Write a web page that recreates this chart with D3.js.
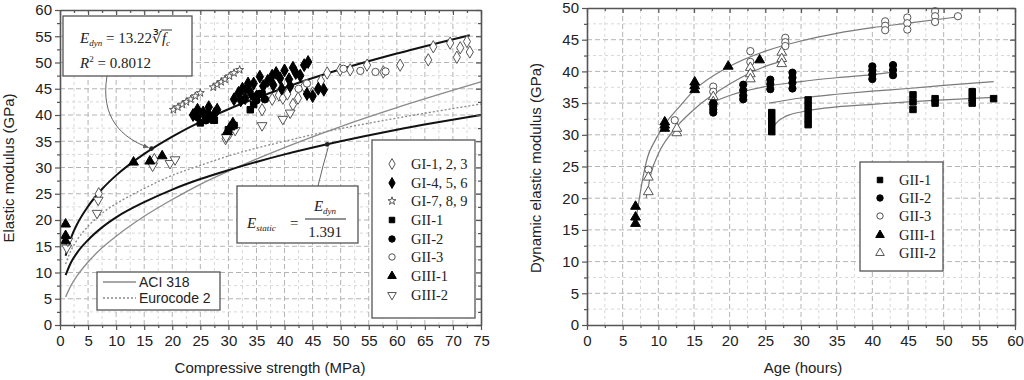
<!DOCTYPE html>
<html><head><meta charset="utf-8">
<script src="https://cdn.jsdelivr.net/npm/d3@7"></script>
<style>body{margin:0;background:#fff}svg{display:block}</style>
</head><body>
<svg id="c" width="1024" height="380"></svg>
<script>
// ---------- LEFT CHART DATA ----------
const leftXTicks = [0,5,10,15,20,25,30,35,40,45,50,55,60,65,70,75];
const leftYTicks = [0,5,10,15,20,25,30,35,40,45,50,55,60];
const leftLegend = ["GI-1, 2, 3","GI-4, 5, 6","GI-7, 8, 9","GII-1","GII-2","GII-3","GIII-1","GIII-2"];

const GI123 = [[1.2,16.3],[6.9,25],[16.8,31.5],[29.5,35.5],[30.2,36.5],[34.5,42.5],[36,41],[37.8,43],[39,43.8],[39.7,43.2],[40.5,44],[41.5,42],[42.4,43.2],[43.5,45.5],[45,44.2],[46.5,46.5],[47.6,48],[49.9,48.6],[51.7,48.6],[54.7,49.5],[57.6,48.2],[60.6,49.5],[65.6,50.5],[66.5,53],[69.5,53.7],[70.7,51],[71.3,52.8],[72.5,54],[73,52]];
const GI456 = [[23.7,40],[24.5,41],[25.5,40.5],[26.5,41.5],[27.5,40.2],[28,41],[26.8,39.6],[31,43],[31.8,44.2],[32.5,45],[33,43.2],[33.8,44.5],[34.5,46],[35,43.5],[35.6,47.3],[32.2,42.8],[33.5,46],[37,46.5],[37.8,47.5],[38.5,48],[39.2,47],[40,48.5],[40.8,46.8],[41.5,49],[42,48],[42.8,47.5],[43.5,49.5],[44.2,50.1],[36.2,45.5],[38,45.7],[39.5,45],[41,45.5],[44,44],[45,43.6],[46,45],[47,44.8]];
const GI789 = [[20.2,41],[21,41.5],[21.8,42],[22.5,42.5],[23.3,43],[24.1,43.6],[25,44.2],[27.3,45.3],[28,45.8],[28.7,46.3],[29.4,46.8],[30.2,47.4],[31,48],[32,48.6]];
const GII1L = [[33.9,41],[25,38.5],[27.5,39],[34.5,42],[31,38],[30,37.2],[36,44],[26,40.3]];
const GII2L = [[34.5,43.5],[35.5,44],[36.5,43],[24.5,39.6],[26,39],[33,45],[35,42.8]];
const GII3L = [[50.5,48.8],[53.5,48.4],[56.2,48.2],[58,48.3],[42.5,45],[44,46]];
const GIII1L = [[1,19.2],[1,17],[1,16],[13.1,31],[16,31.2],[18.2,32.2],[30.3,37.7],[30.8,38.5],[29.8,36.8]];
const GIII2L = [[1.2,14.7],[1.4,16],[6.8,23.8],[6.6,21.3],[16.5,30.3],[19.6,30.8],[20.5,31.5],[31.2,37.1],[29.6,35.8],[36,38],[39.7,39.2],[41,40.4]];

const fitFc   = [1,2,3,5,7.5,10,15,20,25,30,40,50,60,73];
const fitE    = [13.2,16.7,19.1,22.6,25.9,28.5,32.6,35.9,38.7,41.1,45.2,48.7,51.7,55.2];
const statFc  = [1,2,3,5,7.5,10,15,20,25,30,40,50,60,75];
const statE   = [9.5,12.0,13.7,16.2,18.6,20.5,23.4,25.8,27.8,29.5,32.5,35.0,37.2,40.0];
const aciFc   = [1,2,3,5,7.5,10,15,20,25,30,40,50,60,75];
const aciE    = [5.35,7.6,9.3,12,14.7,16.9,20.7,23.9,26.8,29.3,33.8,37.8,41.4,46.3];
const ecFc    = [1,2,3,5,7.5,10,15,20,25,30,40,50,60,75];
const ecE     = [11.6,14.3,16.1,18.8,21.3,23.1,26.0,28.5,30.4,32.2,35.0,37.4,39.4,42.1];
const calloutPts = [[16.3,33.6],[47.6,34.4]];

// ---------- RIGHT CHART DATA ----------
const rightXTicks = [0,5,10,15,20,25,30,35,40,45,50,55,60];
const rightYTicks = [0,5,10,15,20,25,30,35,40,45,50];
const rightLegend = ["GII-1","GII-2","GII-3","GIII-1","GIII-2"];

const GII1R = [[25.9,33.5],[25.9,32.5],[25.9,31.5],[25.9,30.5],[31,35.5],[31,34.5],[31,33.5],[31,32.5],[31,31.6],[45.7,36.3],[45.7,35.2],[45.7,34],[48.8,35.7],[48.8,35],[54,36.8],[54,35.8],[54,35],[57,35.7]];
const GII2R = [[17.7,35],[17.7,34.5],[17.7,34],[17.7,33.5],[21.9,37.9],[21.9,37],[21.9,36.2],[21.9,35.6],[25.7,38.7],[25.7,38],[25.7,37.2],[28.8,39.8],[28.8,39],[28.8,38.2],[28.8,37.3],[40,40.8],[40,40.2],[40,39.5],[40,38.8],[42.9,41],[42.9,40.2],[42.9,39.4]];
const GII3R = [[8.6,24.5],[12.3,32.3],[17.7,37.6],[17.7,36.8],[22.9,43.2],[22.9,41.5],[27.8,45.3],[27.8,44.6],[27.8,44],[41.8,47.9],[41.8,47.2],[41.8,46.5],[44.9,48.5],[44.9,47.6],[44.9,46.6],[48.8,49.5],[48.8,48.7],[48.8,47.8],[52,48.7]];
const GIII1R = [[6.8,18.7],[6.8,17],[6.8,16],[10.9,32],[10.9,31.5],[10.9,31],[15.1,38.3],[15.1,37.7],[15.1,37.1],[19.8,40.8],[24.2,41.8]];
const GIII2R = [[8.6,21],[8.6,23.3],[12.6,30.3],[12.6,31],[17.7,36],[17.7,35.2],[22.9,40.6],[22.9,39.6],[22.9,38.8],[27.3,43],[27.3,42],[27.3,41.2]];

const c1Age = [6.7,7.2,7.8,8.5,9.5,11,13,15,20,25,30,35,40,45,52];
const c1E   = [15.5,19,23,26.5,29,31.8,34.5,37,40.8,43.2,44.8,46,46.9,47.6,48.6];
const c2Age = [8.3,9,10,12,15,20,25,27.5];
const c2E   = [20,24,27,30.5,34,38,40.8,41.7];
const c3Age = [18,20,25,30,35,40,43];
const c3E   = [35.3,36.2,37.6,38.4,39,39.5,39.9];
const c4Age = [25.5,30,35,40,45,50,57];
const c4E   = [35,35.8,36.4,36.9,37.3,37.8,38.4];
const c5Age = [25.8,26.5,27.5,28.5,30,32,35,40,45,50,57];
const c5E   = [30.5,31.8,32.7,33.2,33.6,34,34.4,34.8,35.2,35.5,35.9];

// ---------- DRAWING ----------
const svg = d3.select("#c");
const SANS = "'Liberation Sans', Arial, sans-serif";
const SERIF = "'Liberation Serif', 'Times New Roman', serif";

svg.append("defs").append("marker").attr("id","arr").attr("viewBox","0 0 10 10")
  .attr("refX",9).attr("refY",5).attr("markerWidth",6).attr("markerHeight",6).attr("orient","auto")
  .append("path").attr("d","M0,1 L10,5 L0,9 z").attr("fill","#666");

function mids(a){ return a.slice(0,-1).map((v,i)=>(v+a[i+1])/2); }

function panel(o){
  const g = svg.append("g");
  const x = d3.scaleLinear().domain(o.xd).range(o.xr);
  const y = d3.scaleLinear().domain(o.yd).range(o.yr);
  const xm = mids(o.xt), ym = mids(o.yt);
  const grid = g.append("g");
  const vline = (arr,col,dash,w)=>grid.append("g").selectAll("line").data(arr).join("line")
    .attr("x1",d=>x(d)).attr("x2",d=>x(d)).attr("y1",o.yr[0]).attr("y2",o.yr[1])
    .attr("stroke",col).attr("stroke-dasharray",dash).attr("stroke-width",w);
  const hline = (arr,col,dash,w)=>grid.append("g").selectAll("line").data(arr).join("line")
    .attr("y1",d=>y(d)).attr("y2",d=>y(d)).attr("x1",o.xr[0]).attr("x2",o.xr[1])
    .attr("stroke",col).attr("stroke-dasharray",dash).attr("stroke-width",w);
  vline(xm,"#d8d8d8","3,3",1); hline(ym,"#d8d8d8","3,3",1);
  vline(o.xt.slice(1,-1),"#b4b4b4","5,3",1); hline(o.yt.slice(1,-1),"#b4b4b4","5,3",1);
  return {g,x,y,xm,ym,o};
}

function axes(p){
  const {g,x,y,xm,ym,o} = p;
  const ax = g.append("g");
  const style = sel => {
    sel.selectAll(".domain").attr("stroke","#555").attr("stroke-width",1.6);
    sel.selectAll(".tick line").attr("stroke","#555").attr("stroke-width",1.2);
    sel.selectAll("text").attr("font-family",SANS).attr("font-size",15).attr("fill","#222");
  };
  ax.append("g").attr("transform",`translate(0,${o.yr[0]})`)
    .call(d3.axisBottom(x).tickValues(o.xt).tickSize(5).tickSizeOuter(0).tickPadding(5).tickFormat(d3.format("d"))).call(style);
  ax.append("g").attr("transform",`translate(0,${o.yr[0]})`)
    .call(d3.axisBottom(x).tickValues(xm).tickSize(3).tickFormat("")).call(s=>s.select(".domain").remove()).call(style);
  ax.append("g").attr("transform",`translate(0,${o.yr[1]})`)
    .call(d3.axisTop(x).tickValues(o.xt).tickSize(-5).tickSizeOuter(0).tickFormat("")).call(style);
  ax.append("g").attr("transform",`translate(0,${o.yr[1]})`)
    .call(d3.axisTop(x).tickValues(xm).tickSize(-3).tickFormat("")).call(s=>s.select(".domain").remove()).call(style);
  ax.append("g").attr("transform",`translate(${o.xr[0]},0)`)
    .call(d3.axisLeft(y).tickValues(o.yt).tickSize(5).tickSizeOuter(0).tickPadding(3).tickFormat(d3.format("d"))).call(style);
  ax.append("g").attr("transform",`translate(${o.xr[0]},0)`)
    .call(d3.axisLeft(y).tickValues(ym).tickSize(3).tickFormat("")).call(s=>s.select(".domain").remove()).call(style);
  ax.append("g").attr("transform",`translate(${o.xr[1]},0)`)
    .call(d3.axisRight(y).tickValues(o.yt).tickSize(-5).tickSizeOuter(0).tickFormat("")).call(style);
  ax.append("g").attr("transform",`translate(${o.xr[1]},0)`)
    .call(d3.axisRight(y).tickValues(ym).tickSize(-3).tickFormat("")).call(s=>s.select(".domain").remove()).call(style);
}

function curve(p,xs,ys,st){
  const line = d3.line().x(d=>p.x(d[0])).y(d=>p.y(d[1])).curve(d3.curveMonotoneX);
  p.g.append("path").datum(xs.map((v,i)=>[v,ys[i]])).attr("d",line).attr("fill","none")
    .attr("stroke",st.c).attr("stroke-width",st.w).attr("stroke-dasharray",st.dash||null);
}

const STY = {
  diaO:{t:d3.symbolDiamond,s:34,f:"#fff",k:"#555"},
  diaF:{t:d3.symbolDiamond,s:34,f:"#000",k:"#000"},
  star:{t:d3.symbolStar,s:20,f:"#fff",k:"#555"},
  sqF:{t:d3.symbolSquare,s:30,f:"#000",k:"#000"},
  ciF:{t:d3.symbolCircle,s:32,f:"#000",k:"#000"},
  ciO:{t:d3.symbolCircle,s:32,f:"#fff",k:"#555"},
  trF:{t:d3.symbolTriangle,s:32,f:"#000",k:"#000"},
  trDO:{t:d3.symbolTriangle,s:32,f:"#fff",k:"#555",rot:true},
  trO:{t:d3.symbolTriangle,s:32,f:"#fff",k:"#555"}
};
function sym(sel,st,scale){
  return sel.attr("d",d3.symbol(st.t,st.s*(scale||1))).attr("fill",st.f).attr("stroke",st.k).attr("stroke-width",1);
}
function pts(p,data,st,scale){
  p.g.append("g").selectAll("path").data(data).join("path")
    .attr("transform",d=>`translate(${p.x(d[0])},${p.y(d[1])})${st.rot?" rotate(180)":""}`)
    .call(s=>sym(s,st,scale));
}
function box(g,x,y,w,h){
  g.append("rect").attr("x",x).attr("y",y).attr("width",w).attr("height",h)
    .attr("fill","#fff").attr("stroke","#555").attr("stroke-width",1.3);
}

// ===== LEFT =====
const L = panel({xd:[0,75],xr:[60,481],yd:[0,60],yr:[325,10],xt:leftXTicks,yt:leftYTicks});
curve(L,aciFc,aciE,{c:"#8a8a8a",w:1.3});
curve(L,ecFc,ecE,{c:"#8a8a8a",w:1.3,dash:"2,2"});
curve(L,statFc,statE,{c:"#111",w:2});
curve(L,fitFc,fitE,{c:"#111",w:2});
pts(L,GI123,STY.diaO,1.3); pts(L,GI789,STY.star); pts(L,GII3L,STY.ciO,1.3); pts(L,GIII2L,STY.trDO,1.3);
pts(L,GI456,STY.diaF,1.4); pts(L,GII1L,STY.sqF,1.4); pts(L,GII2L,STY.ciF,1.4); pts(L,GIII1L,STY.trF,1.3);

// callout dots and arrows
L.g.append("g").selectAll("circle").data(calloutPts).join("circle")
  .attr("cx",d=>L.x(d[0])).attr("cy",d=>L.y(d[1])).attr("r",2.3).attr("fill","#222");
{
  const a = calloutPts[0], b = calloutPts[1];
  const ax = L.x(a[0]), ay = L.y(a[1]), bx = L.x(b[0]), by = L.y(b[1]);
  L.g.append("path").attr("d",`M107,76 C100,118 122,138 ${ax-3},${ay-1}`).attr("fill","none")
    .attr("stroke","#666").attr("stroke-width",1).attr("marker-end","url(#arr)");
  L.g.append("path").attr("d",`M318,186 Q323,165 ${bx+1},${by+3}`).attr("fill","none")
    .attr("stroke","#666").attr("stroke-width",1);
}

// equation box 1
box(L.g,63,16,129,60);
{
  const t = L.g.append("text").attr("x",80).attr("y",43).attr("font-family",SERIF).attr("font-size",15).attr("fill","#222");
  t.append("tspan").attr("font-style","italic").text("E");
  t.append("tspan").attr("font-style","italic").attr("font-size",9).attr("dy",3).text("dyn");
  t.append("tspan").attr("dy",-3).text(" = 13.22");
  t.append("tspan").text("∛");
  t.append("tspan").attr("font-style","italic").text("f");
  t.append("tspan").attr("font-style","italic").attr("font-size",9).attr("dy",3).text("c");
  const n = t.node();
  try{
    const s = n.getStartPositionOfChar(13).x, e = n.getEndPositionOfChar(14).x;
    L.g.append("line").attr("x1",s-1).attr("x2",e+2).attr("y1",30).attr("y2",30).attr("stroke","#222").attr("stroke-width",0.9);
  }catch(err){}
  const r = L.g.append("text").attr("x",80).attr("y",68).attr("font-family",SERIF).attr("font-size",15).attr("fill","#222");
  r.append("tspan").attr("font-style","italic").text("R");
  r.append("tspan").attr("font-size",9).attr("dy",-6).text("2");
  r.append("tspan").attr("dy",6).text(" = 0.8012");
}
// equation box 2
box(L.g,237,186,121,57);
{
  const t = L.g.append("text").attr("x",247).attr("y",228).attr("font-family",SERIF).attr("font-size",15).attr("fill","#222");
  t.append("tspan").attr("font-style","italic").text("E");
  t.append("tspan").attr("font-style","italic").attr("font-size",9).attr("dy",3).text("static");
  L.g.append("text").attr("x",290).attr("y",228).attr("font-family",SERIF).attr("font-size",15).attr("fill","#222").text("=");
  const nnum = L.g.append("text").attr("x",325).attr("y",211).attr("text-anchor","middle").attr("font-family",SERIF).attr("font-size",15).attr("fill","#222");
  nnum.append("tspan").attr("font-style","italic").text("E");
  nnum.append("tspan").attr("font-style","italic").attr("font-size",9).attr("dy",3).text("dyn");
  L.g.append("line").attr("x1",305).attr("x2",346).attr("y1",219).attr("y2",219).attr("stroke","#222").attr("stroke-width",1);
  L.g.append("text").attr("x",325).attr("y",237).attr("text-anchor","middle").attr("font-family",SERIF).attr("font-size",15).attr("fill","#222").text("1.391");
}
// legend with markers
box(L.g,372,140,103,178);
{
  const st = [STY.diaO,STY.diaF,STY.star,STY.sqF,STY.ciF,STY.ciO,STY.trF,STY.trDO];
  const ys = [164,183,201,220,239,257,276,295];
  leftLegend.forEach((lab,i)=>{
    L.g.append("path").attr("transform",`translate(392,${ys[i]})${st[i].rot?" rotate(180)":""}`).call(s=>sym(s,st[i]));
    L.g.append("text").attr("x",411).attr("y",ys[i]+5).attr("font-family",SERIF).attr("font-size",14.5).attr("fill","#222").text(lab);
  });
}
// ACI / Eurocode legend
box(L.g,97,272,123,38);
L.g.append("line").attr("x1",103).attr("x2",136).attr("y1",282).attr("y2",282).attr("stroke","#8a8a8a").attr("stroke-width",1.3);
L.g.append("line").attr("x1",103).attr("x2",136).attr("y1",298).attr("y2",298).attr("stroke","#8a8a8a").attr("stroke-width",1.3).attr("stroke-dasharray","2,2");
L.g.append("text").attr("x",139).attr("y",287).attr("font-family",SANS).attr("font-size",14).attr("fill","#222").text("ACI 318");
L.g.append("text").attr("x",139).attr("y",303).attr("font-family",SANS).attr("font-size",14).attr("fill","#222").text("Eurocode 2");
axes(L);
svg.append("text").attr("transform","translate(14,168) rotate(-90)").attr("text-anchor","middle")
  .attr("font-family",SANS).attr("font-size",15).attr("fill","#222").text("Elastic modulus (GPa)");
svg.append("text").attr("x",270).attr("y",373).attr("text-anchor","middle")
  .attr("font-family",SANS).attr("font-size",15).attr("fill","#222").text("Compressive strength (MPa)");

// ===== RIGHT =====
const R = panel({xd:[0,60],xr:[587,1015],yd:[0,50],yr:[325,8],xt:rightXTicks,yt:rightYTicks});
[[c1Age,c1E],[c2Age,c2E],[c3Age,c3E],[c4Age,c4E],[c5Age,c5E]].forEach(c=>curve(R,c[0],c[1],{c:"#7a7a7a",w:1.2}));
pts(R,GII3R,STY.ciO,1.3); pts(R,GIII2R,STY.trO,1.3);
pts(R,GII1R,STY.sqF,1.4); pts(R,GII2R,STY.ciF,1.3); pts(R,GIII1R,STY.trF,1.3);
box(R.g,860,162,83,109);
{
  const st = [STY.sqF,STY.ciF,STY.ciO,STY.trF,STY.trO];
  const ys = [180,198,216,235,253];
  rightLegend.forEach((lab,i)=>{
    R.g.append("path").attr("transform",`translate(880,${ys[i]})`).call(s=>sym(s,st[i]));
    R.g.append("text").attr("x",899).attr("y",ys[i]+5).attr("font-family",SERIF).attr("font-size",14.5).attr("fill","#222").text(lab);
  });
}
axes(R);
svg.append("text").attr("transform","translate(541,168) rotate(-90)").attr("text-anchor","middle")
  .attr("font-family",SANS).attr("font-size",15).attr("fill","#222").text("Dynamic elastic modulus (GPa)");
svg.append("text").attr("x",803).attr("y",373).attr("text-anchor","middle")
  .attr("font-family",SANS).attr("font-size",15).attr("fill","#222").text("Age (hours)");
</script>
</body></html>
